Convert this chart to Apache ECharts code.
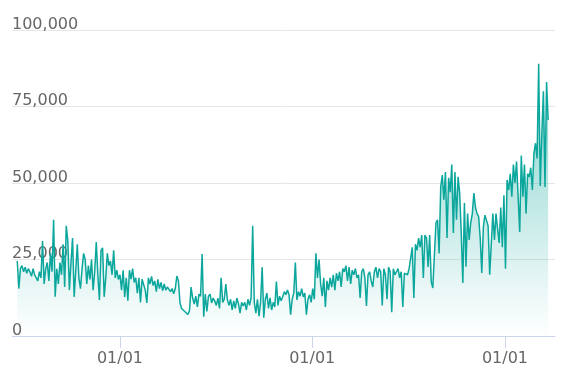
<!DOCTYPE html>
<html>
<head>
<meta charset="utf-8">
<script src="https://cdn.jsdelivr.net/npm/echarts@6/dist/echarts.min.js"></script>
<style>
  html, body { margin: 0; padding: 0; background: #fff; }
  #chart { width: 564px; height: 390px; }
</style>
</head>
<body>
<div id="chart"></div>
<script>
// Series values, in thousands, one reading every 3 days starting 2018-06-20
const startDate = [2018, 5, 20];
const stepDays = 3;
const UNIT = 1000;
const valuesK = [
  24.5, 15.5, 22, 23, 21, 22.5, 20.5, 22, 21, 19.5, 22, 20,
  20, 18, 21, 19, 31, 17, 22, 24, 18, 27, 21, 38,
  12.8, 22, 17, 24, 20, 30, 16, 36, 31, 15, 24, 32,
  12.8, 21, 30, 19, 15.5, 22, 27, 25, 17, 23, 18.5, 25,
  15, 21, 30.7, 20, 11.8, 28, 28.8, 12.8, 19, 27, 23, 24.5,
  20, 28, 19, 21.5, 18.5, 20, 15, 21.5, 12.8, 19, 11.5, 21.5,
  18.6, 22, 17.5, 19, 14, 19, 11, 18.6, 18, 15, 10.8, 19,
  17, 19.5, 16.5, 18, 14.5, 18.5, 15.5, 17.5, 14.8, 17, 15, 16,
  16.5, 14.5, 15.5, 13.8, 15.5, 19.6, 18, 10.8, 9, 9.2, 8, 7.5,
  7, 8.3, 16, 12.4, 10.4, 13, 9.5, 13.7, 13, 26.8, 6.3, 13.7,
  8, 13, 13.7, 10.8, 12.4, 11.4, 10, 12.4, 9, 19, 11, 12,
  17, 11.8, 10, 12, 8.5, 11.5, 9, 12.4, 10.5, 7.5, 11, 9.8,
  11, 8.5, 12, 10, 12.5, 36, 11, 7.5, 12, 6.5, 11, 22.5,
  6, 12, 14, 9, 12.5, 8.5, 11, 9.5, 17.8, 10, 13, 11.5,
  12.8, 14.5, 13.5, 15, 13.5, 7, 12, 14, 24, 11.8, 14.5, 13,
  15.5, 12.8, 14, 7, 12, 13.5, 11, 15.5, 12, 27, 19, 25,
  17, 13, 19, 9.5, 18, 15, 19, 16, 20, 15, 20.5, 18,
  21, 16, 22, 21, 23, 18, 22.5, 17, 21.5, 20, 22, 19,
  20, 12.4, 21, 22, 19, 9.8, 20, 21, 18, 16, 21, 22.5,
  19, 22, 21, 10, 22, 20, 12, 22.5, 21, 7.8, 22, 20,
  21, 22, 19, 21, 9.5, 20.5, 21, 20, 22, 22.5, 29, 12.4,
  30, 28, 32, 29, 33, 19, 33, 32, 22.6, 33, 17.7, 15.7,
  15.7, 37, 38, 27, 48.7, 52.6, 44.5, 53.6, 32, 51.7, 47, 56,
  33.7, 53.6, 38, 52, 46.7, 33.7, 17.3, 43.5, 22.6, 40, 31.4, 37,
  40, 46.7, 42, 40, 39, 32, 20.6, 35.7, 39.5, 40, 36, 20,
  20, 40, 31.4, 40, 35, 30.4, 42, 29, 46, 22, 51, 47.7,
  53, 45.5, 56, 50, 57, 56.6, 34, 59, 45.5, 56, 40, 53,
  52, 55, 47.7, 59.8, 63, 58, 89, 49, 66, 80, 48.7, 83,
  70.6
];
const tickDates = [[2019, 0, 1], [2020, 0, 1], [2021, 0, 1]];
const axisMinDate = [2018, 5, 10];
const axisMaxDate = [2021, 3, 6];
const yTicks = [0, 25000, 50000, 75000, 100000];

function toTime(a) { return new Date(a[0], a[1], a[2]).getTime(); }
const seriesData = valuesK.map(function (v, i) {
  const d = new Date(startDate[0], startDate[1], startDate[2] + i * stepDays);
  return [d.getTime(), v * UNIT];
});
const tickTimes = tickDates.map(toTime);

function pad(n) { return (n < 10 ? '0' : '') + n; }

const chart = echarts.init(document.getElementById('chart'), null, { renderer: 'canvas' });
chart.setOption({
  animation: false,
  backgroundColor: '#ffffff',
  grid: { left: 12, right: 9, top: 30, bottom: 54, containLabel: false },
  xAxis: {
    type: 'value',
    min: toTime(axisMinDate),
    max: toTime(axisMaxDate),
    axisLine: { show: true, onZero: false, lineStyle: { color: '#ccd6eb', width: 1 } },
    axisTick: { show: true, length: 12, customValues: tickTimes, lineStyle: { color: '#ccd6eb', width: 1 } },
    axisLabel: {
      customValues: tickTimes,
      margin: 15,
      color: '#666666',
      fontFamily: 'DejaVu Sans',
      fontSize: 16,
      formatter: function (v) { const d = new Date(v); return pad(d.getMonth() + 1) + '/' + pad(d.getDate()); }
    },
    splitLine: { show: false }
  },
  yAxis: {
    type: 'value',
    min: yTicks[0],
    max: yTicks[yTicks.length - 1],
    interval: yTicks[1] - yTicks[0],
    axisLine: { show: false },
    axisTick: { show: false },
    axisLabel: {
      inside: true,
      margin: 0,
      align: 'left',
      verticalAlign: 'bottom',
      lineHeight: 11,
      padding: 0,
      color: '#666666',
      fontFamily: 'DejaVu Sans',
      fontSize: 16,
      formatter: function (v) { return v.toLocaleString('en-US'); }
    },
    splitLine: { show: true, lineStyle: { color: '#e6e6e6', width: 1 } }
  },
  series: [{
    type: 'line',
    data: seriesData,
    showSymbol: false,
    symbol: 'none',
    lineStyle: { color: '#0ba69c', width: 1.5 },
    itemStyle: { color: '#0ba69c' },
    areaStyle: {
      color: new echarts.graphic.LinearGradient(0, 0, 0, 1, [
        { offset: 0, color: 'rgba(11,166,156,0.75)' },
        { offset: 1, color: 'rgba(11,166,156,0.0)' }
      ])
    }
  }]
});
</script>
</body>
</html>
